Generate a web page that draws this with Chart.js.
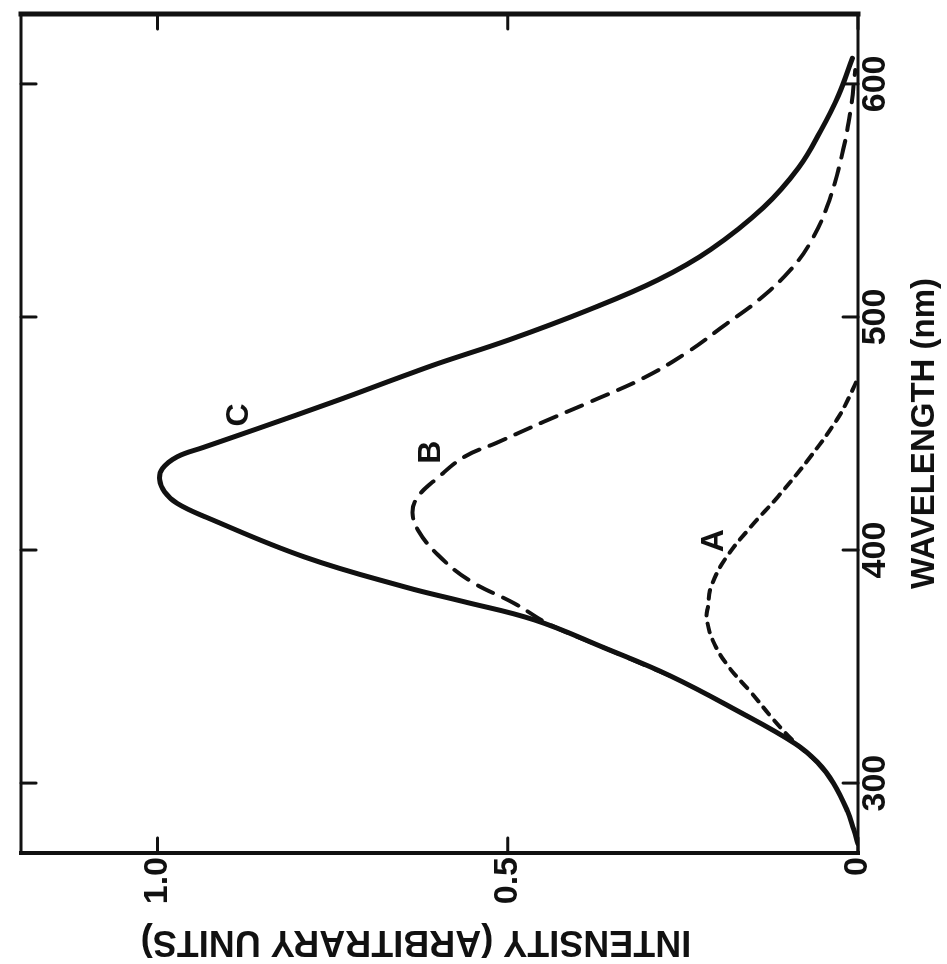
<!DOCTYPE html>
<html>
<head>
<meta charset="utf-8">
<title>Intensity vs wavelength</title>
<script src="https://cdn.jsdelivr.net/npm/chart.js@4.4.1/dist/chart.umd.min.js"></script>
<style>
    html, body { margin: 0; padding: 0; background: #fff; overflow: hidden; }
    /* the figure is printed turned a quarter turn, so the whole chart is rotated */
    #wrap {
        position: absolute;
        left: 0;
        top: 0;
        width: 964px;
        height: 947px;
        transform-origin: 0 0;
        transform: translateY(964px) rotate(-90deg);
    }
</style>
</head>
<body>
<div id="wrap"><canvas id="spectrumChart" width="964" height="947"></canvas></div>
<script>
// Values: wavelength (nm) and intensity (arbitrary units)
const wavelengthC = [274, 280, 288, 300, 309, 317, 331, 346, 358, 370, 378, 384, 397, 414, 420, 425, 430, 435, 440, 444, 452, 464, 474, 480, 490, 503, 516, 529, 547, 564, 580, 595, 611];
const intensityC  = [0.0, 0.006, 0.015, 0.035, 0.058, 0.09, 0.172, 0.268, 0.362, 0.462, 0.565, 0.645, 0.79, 0.93, 0.972, 0.99, 0.997, 0.993, 0.972, 0.935, 0.858, 0.745, 0.655, 0.6, 0.5, 0.385, 0.285, 0.21, 0.135, 0.085, 0.053, 0.028, 0.008];

const wavelengthB = [346, 358, 368, 377, 387, 398, 408, 416, 423, 431, 440, 446, 455, 464, 474, 485, 497, 507, 520, 533, 550, 572, 590, 606];
const intensityB  = [0.268, 0.362, 0.44, 0.49, 0.555, 0.60, 0.627, 0.636, 0.628, 0.60, 0.562, 0.516, 0.449, 0.379, 0.305, 0.243, 0.188, 0.143, 0.097, 0.066, 0.041, 0.021, 0.010, 0.004];

const wavelengthA = [309, 318, 327, 339, 350, 361, 371, 376, 384, 396, 410, 423, 440, 456, 466, 474];
const intensityA  = [0.058, 0.092, 0.12, 0.153, 0.185, 0.207, 0.216, 0.214, 0.21, 0.19, 0.153, 0.114, 0.068, 0.03, 0.012, 0.0];

// curve letters and where they sit
const curveNames = ['A', 'B', 'C'];
const curveNameWavelengths = [404, 442, 458];
const curveNameIntensities = [0.205, 0.609, 0.883];

const wavelengthTicks = [300, 400, 500, 600];
const intensityTicks = [0, 0.5, 1.0];

const inkColor = '#111';
const fontFamily = '"Liberation Sans", Arial, Helvetica, sans-serif';

function toPoints(xs, ys) {
    return xs.map((v, i) => ({ x: v, y: ys[i] }));
}

// Frame with inward ticks on every side, curve letters, intensity title
const frameAndLabels = {
    id: 'frameAndLabels',
    afterDraw(chart) {
        const { ctx, chartArea: a, scales: { x, y } } = chart;
        const line = (w, x1, y1, x2, y2) => {
            ctx.lineWidth = w;
            ctx.beginPath();
            ctx.moveTo(x1, y1);
            ctx.lineTo(x2, y2);
            ctx.stroke();
        };
        ctx.save();
        ctx.strokeStyle = inkColor;
        ctx.fillStyle = inkColor;
        ctx.lineCap = 'square';

        line(4, a.left, a.top, a.left, a.bottom);
        line(5, a.right, a.top, a.right, a.bottom);
        line(3, a.left, a.top, a.right, a.top);
        line(3, a.left, a.bottom, a.right, a.bottom);

        ctx.lineCap = 'round';
        x.ticks.forEach(t => {
            const px = x.getPixelForValue(t.value);
            line(3, px, a.bottom, px, a.bottom - 15);
            line(3, px, a.top, px, a.top + 15);
        });
        y.ticks.forEach(t => {
            const py = y.getPixelForValue(t.value);
            line(3, a.left, py, a.left + 15, py);
            line(3, a.right, py, a.right - 15, py);
        });

        ctx.font = 'bold 32px ' + fontFamily;
        ctx.textAlign = 'center';
        ctx.textBaseline = 'middle';
        curveNames.forEach((name, i) => {
            ctx.fillText(name, x.getPixelForValue(curveNameWavelengths[i]), y.getPixelForValue(curveNameIntensities[i]));
        });

        ctx.font = 'bold 36px ' + fontFamily;
        ctx.translate(23, 416);
        ctx.rotate(-Math.PI / 2);
        ctx.fillText('INTENSITY (ARBITRARY UNITS)', 0, 0);
        ctx.restore();
    }
};

const ctx = document.getElementById('spectrumChart').getContext('2d');
new Chart(ctx, {
    type: 'line',
    data: {
        datasets: [
            {
                label: 'C',
                data: toPoints(wavelengthC, intensityC),
                borderColor: inkColor,
                borderWidth: 5,
                borderCapStyle: 'round',
                borderJoinStyle: 'round'
            },
            {
                label: 'B',
                data: toPoints(wavelengthB, intensityB),
                borderColor: inkColor,
                borderWidth: 4,
                borderDash: [17, 11],
                borderCapStyle: 'round'
            },
            {
                label: 'A',
                data: toPoints(wavelengthA, intensityA),
                borderColor: inkColor,
                borderWidth: 4,
                borderDash: [9, 8],
                borderCapStyle: 'round'
            }
        ]
    },
    options: {
        responsive: false,
        animation: false,
        devicePixelRatio: 1,
        layout: { padding: { top: 12, right: 14, left: 0, bottom: 0 } },
        elements: {
            point: { radius: 0 },
            line: { tension: 0.4, fill: false }
        },
        plugins: {
            legend: { display: false },
            tooltip: { enabled: false }
        },
        scales: {
            x: {
                type: 'linear',
                min: 270,
                max: 630,
                grid: { display: false, drawTicks: false },
                border: { display: false },
                afterBuildTicks: s => { s.ticks = wavelengthTicks.map(v => ({ value: v })); },
                afterFit: s => { s.height = 89; },
                ticks: {
                    color: inkColor,
                    padding: 1,
                    maxRotation: 0,
                    font: { family: fontFamily, size: 34, weight: 'bold', lineHeight: 1 },
                    callback: v => String(v)
                },
                title: {
                    display: true,
                    text: 'WAVELENGTH (nm)',
                    color: inkColor,
                    padding: { top: 0, bottom: 2 },
                    font: { family: fontFamily, size: 33, weight: 'bold' }
                }
            },
            y: {
                type: 'linear',
                min: 0,
                max: 1.195,
                grid: { display: false, drawTicks: false },
                border: { display: false },
                afterBuildTicks: s => { s.ticks = intensityTicks.map(v => ({ value: v })); },
                afterFit: s => { s.width = 111; },
                ticks: {
                    color: inkColor,
                    padding: 4,
                    font: { family: fontFamily, size: 34, weight: 'bold', lineHeight: 1 },
                    callback: v => v === 0 ? '0' : v.toFixed(1)
                }
            }
        }
    },
    plugins: [frameAndLabels]
});
</script>
</body>
</html>
